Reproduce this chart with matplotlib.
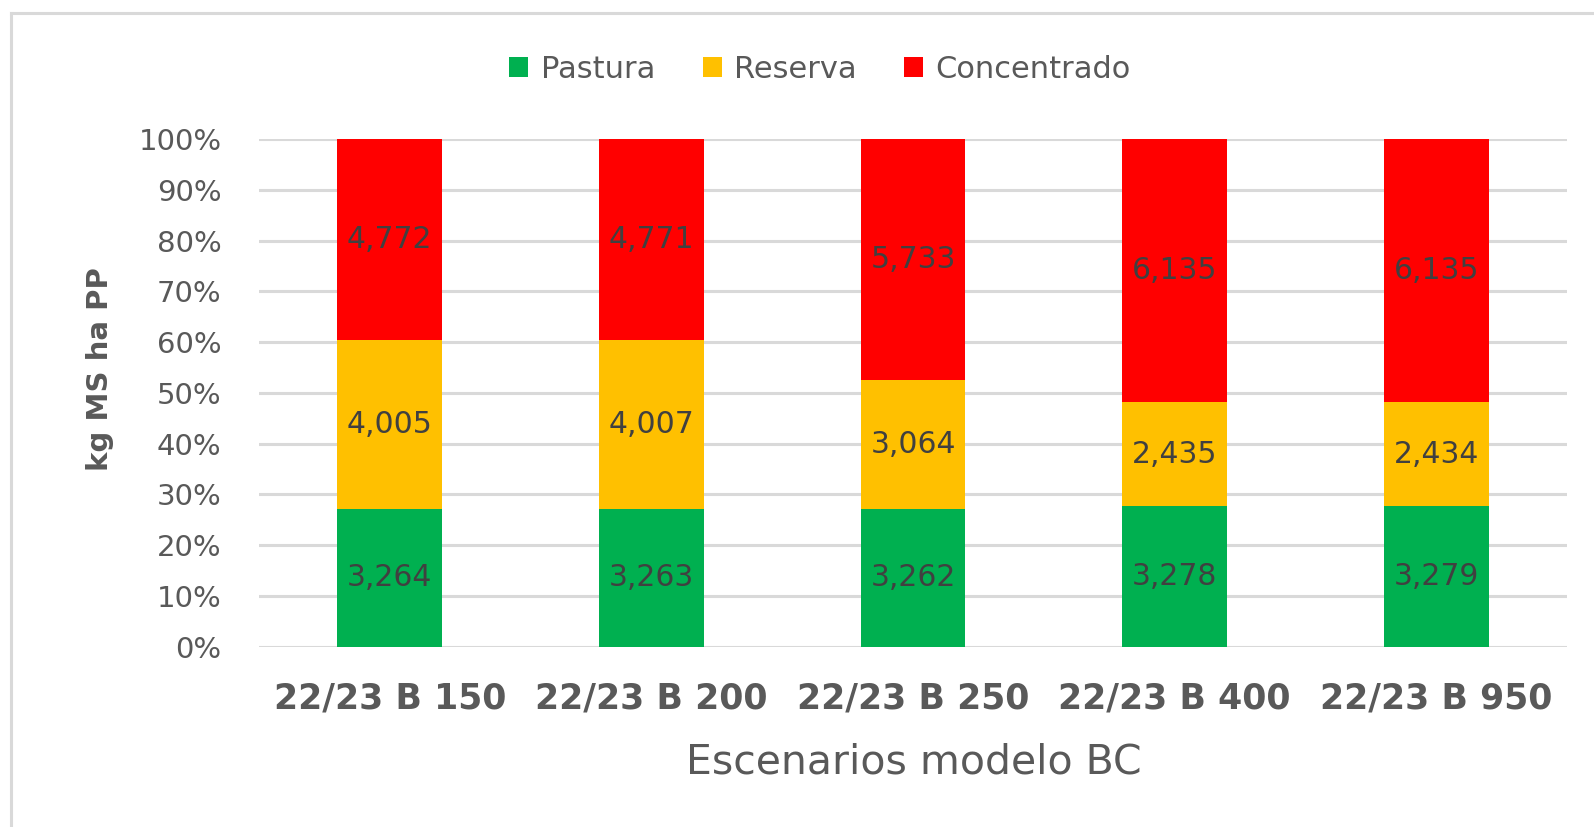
import numpy as np
import matplotlib.pyplot as plt
from matplotlib.lines import Line2D
from matplotlib.ticker import PercentFormatter

escenarios = ['22/23 B 150', '22/23 B 200', '22/23 B 250', '22/23 B 400', '22/23 B 950']
pastura = [3264, 3263, 3262, 3278, 3279]
reserva = [4005, 4007, 3064, 2435, 2434]
concentrado = [4772, 4771, 5733, 6135, 6135]
series_names = ['Pastura', 'Reserva', 'Concentrado']
colores = ['#00B050', '#FFC000', '#FF0000']

plt.rcParams['font.family'] = ['DejaVu Sans']
gris = '#595959'

W, H = 1594, 827
fig = plt.figure(figsize=(W / 100, H / 100), dpi=100)
ax = fig.add_axes([259 / W, 1 - 646.5 / H, 1308 / W, 507.2 / H])

datos = np.array([pastura, reserva, concentrado], dtype=float)
total = datos.sum(axis=0)
pct = datos / total * 100
x = np.arange(len(escenarios))

abajo = np.zeros(len(escenarios))
for i, nombre in enumerate(series_names):
    barras = ax.bar(x, pct[i], 0.4, bottom=abajo, color=colores[i], label=nombre, zorder=3)
    etiquetas = ['{:,}'.format(int(v)) for v in datos[i]]
    ax.bar_label(barras, labels=etiquetas, label_type='center', fontsize=21.5, color='#404040')
    abajo += pct[i]

ax.set_xlim(-0.5, len(escenarios) - 0.5)
ax.set_ylim(0, 100)
ax.set_yticks(np.arange(0, 101, 10))
ax.yaxis.set_major_formatter(PercentFormatter(decimals=0))
ax.grid(axis='y', color='#D9D9D9', linewidth=2.2, zorder=0)
ax.set_axisbelow(True)
for s in ax.spines.values():
    s.set_visible(False)
ax.tick_params(axis='y', length=0, pad=27, labelsize=21, labelcolor=gris)
ax.set_xticks(x)
ax.set_xticklabels(escenarios, fontweight='bold')
ax.tick_params(axis='x', length=0, pad=25, labelsize=25, labelcolor=gris)

fig.text(914 / W, 1 - 762 / H, 'Escenarios modelo BC', fontsize=29.5, color=gris,
         ha='center', va='center')
fig.text(100 / W, 1 - 369 / H, 'kg MS ha PP', fontsize=21, color=gris, fontweight='bold',
         rotation=90, ha='center', va='center')

leg = fig.legend(loc='center', bbox_to_anchor=(820 / W, 1 - 69 / H), ncol=3, frameon=False,
                 fontsize=22, handlelength=0.62, handleheight=0.62, handletextpad=0.4,
                 columnspacing=1.56)
for t in leg.get_texts():
    t.set_color(gris)

# borde del area del grafico (solo arriba e izquierda visibles)
fig.add_artist(Line2D([11 / W, 1.0], [1 - 13 / H, 1 - 13 / H], color='#D9D9D9', linewidth=2.2))
fig.add_artist(Line2D([11 / W, 11 / W], [1 - 13 / H, 0.0], color='#D9D9D9', linewidth=2.2))

fig.savefig('out.png', dpi=100)
